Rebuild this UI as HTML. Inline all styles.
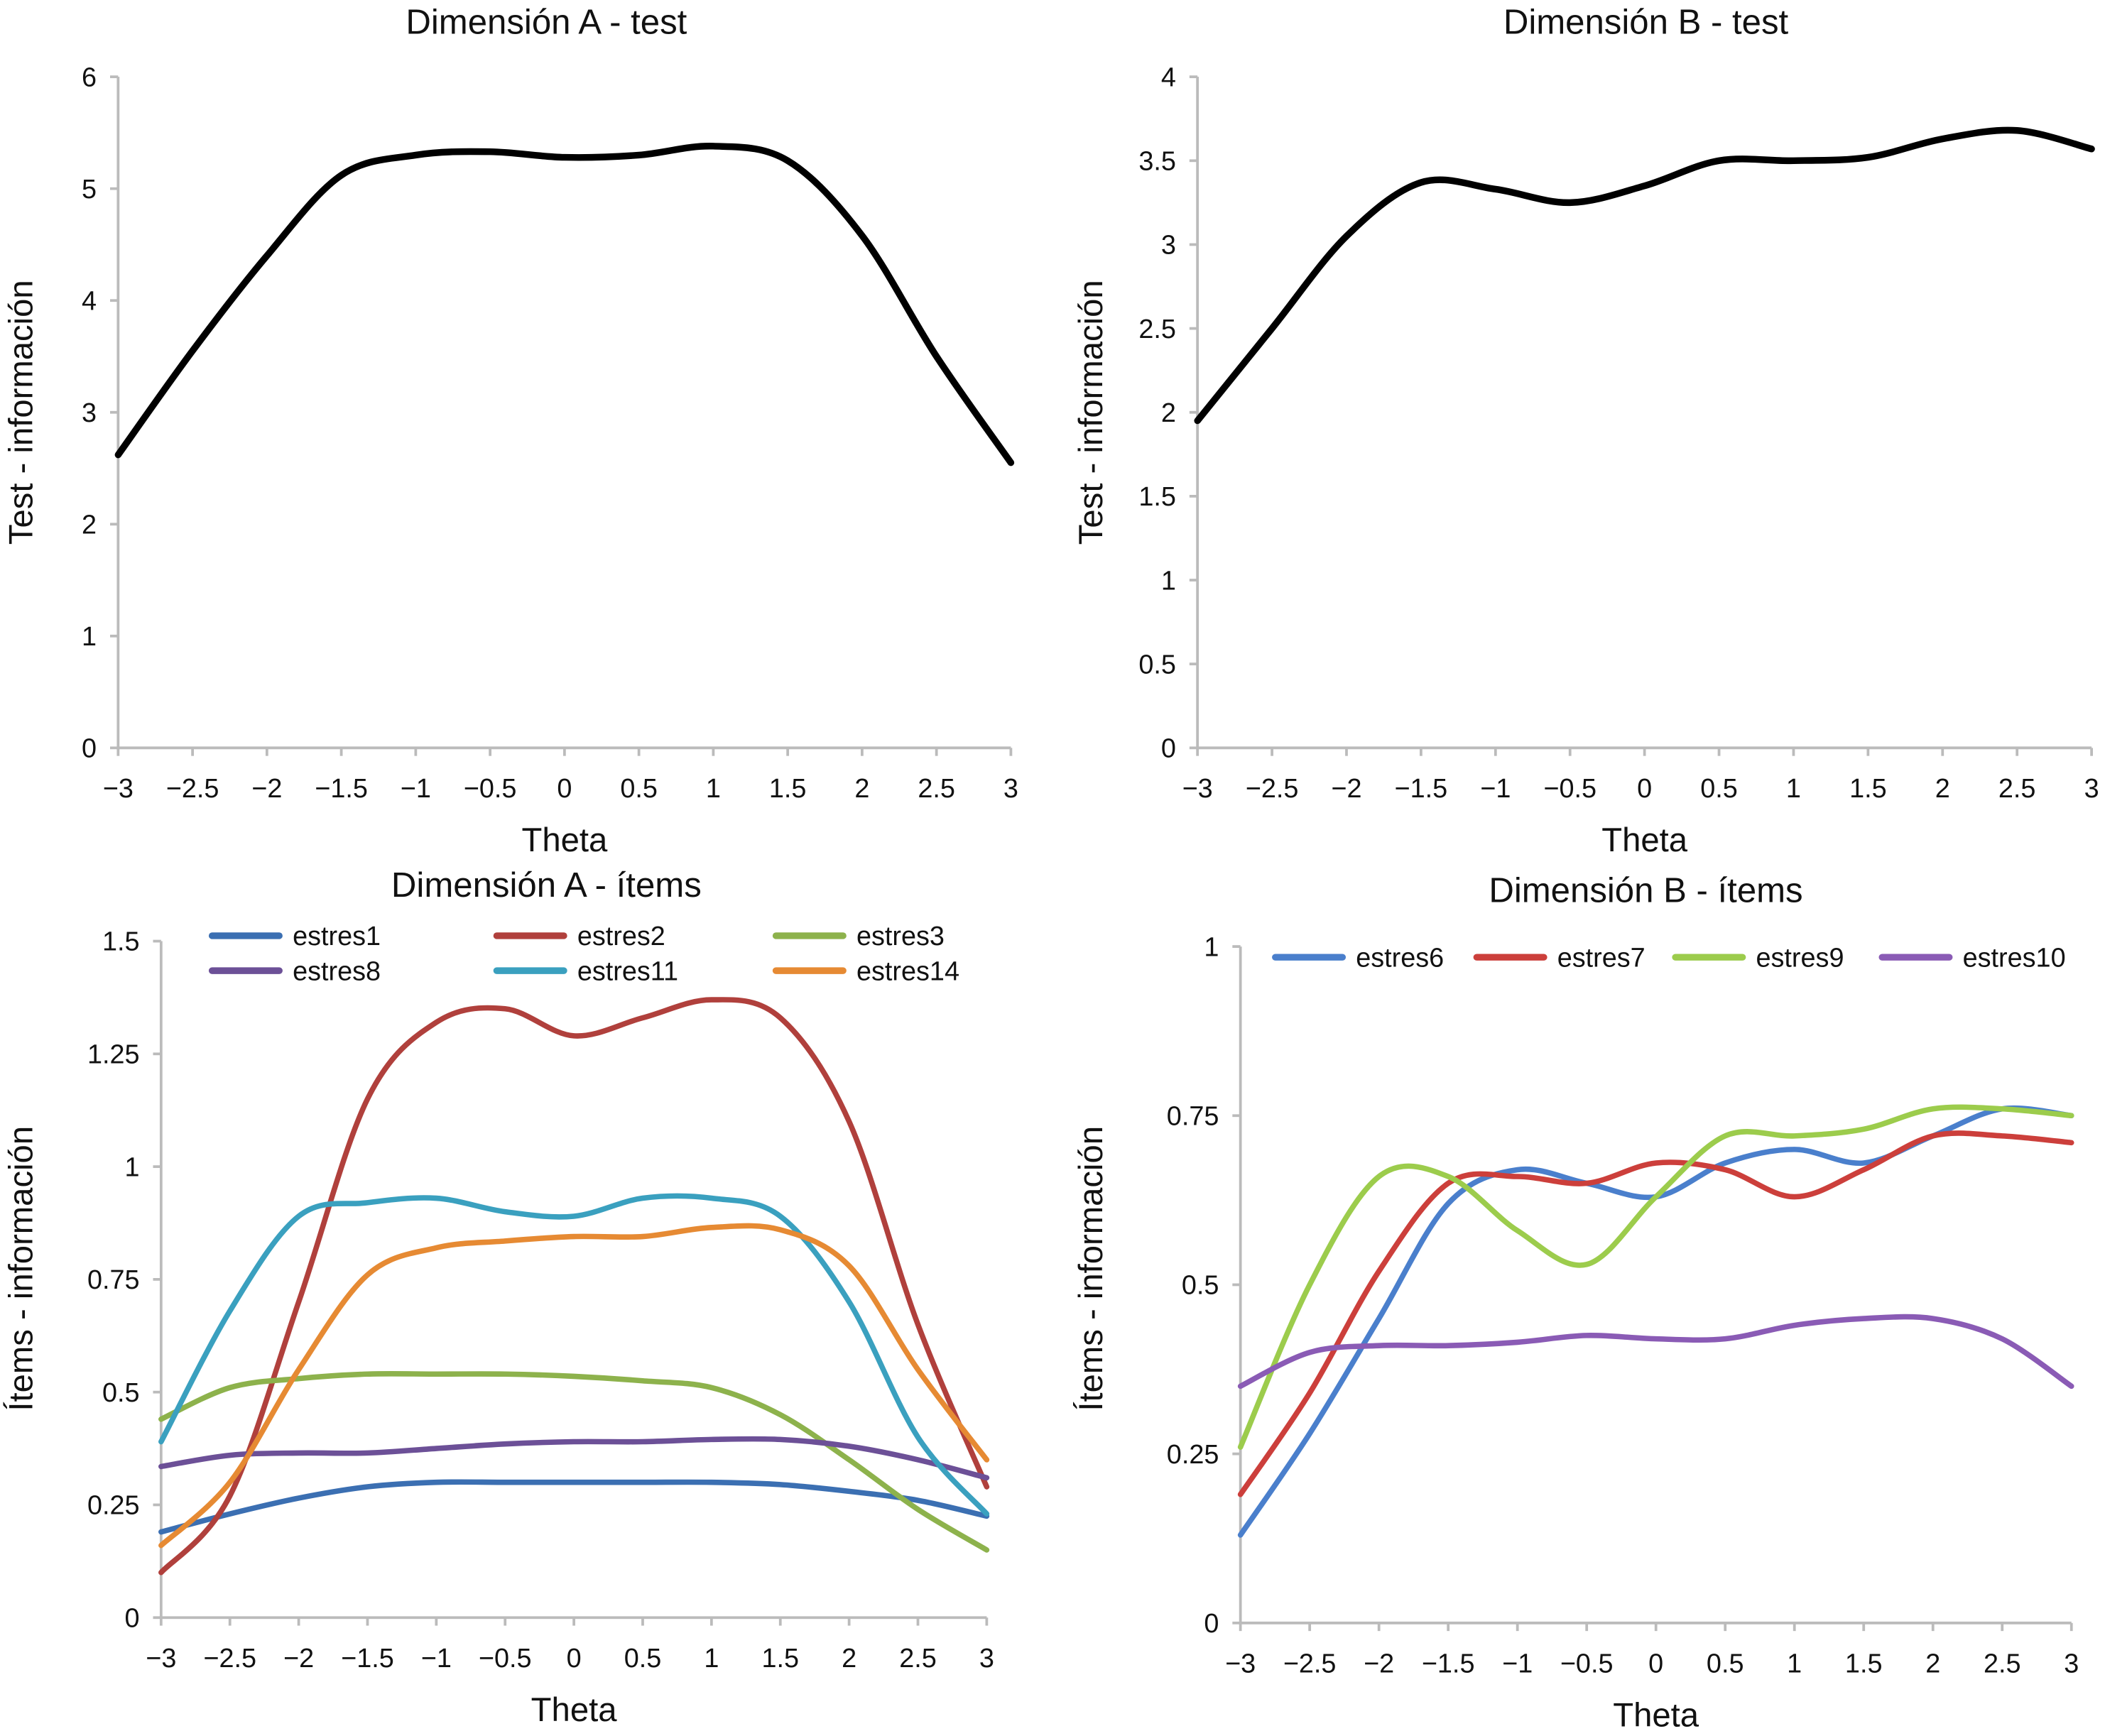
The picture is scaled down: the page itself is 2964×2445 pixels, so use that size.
<!DOCTYPE html>
<html><head><meta charset="utf-8"><style>
html,body{margin:0;padding:0;background:#fff}
svg{display:block}
text{font-family:"Liberation Sans",sans-serif;fill:#111}
</style></head><body>
<svg id="root" width="2964" height="2445" viewBox="0 0 1568 1293" xmlns="http://www.w3.org/2000/svg"></svg>
<script>
const thetas=[-3,-2.5,-2,-1.5,-1,-0.5,0,0.5,1,1.5,2,2.5,3];
const xTickLabels=["\u22123","\u22122.5","\u22122","\u22121.5","\u22121","\u22120.5","0","0.5","1","1.5","2","2.5","3"];
const testA=[2.62,3.55,4.4,5.12,5.3,5.33,5.28,5.3,5.38,5.25,4.58,3.5,2.55];
const testB=[1.95,2.5,3.05,3.37,3.33,3.25,3.35,3.5,3.5,3.52,3.63,3.68,3.57];
const estres1=[.19,.23,.265,.29,.30,.30,.30,.30,.30,.295,.28,.26,.225];
const estres2=[.10,.27,.70,1.15,1.32,1.35,1.29,1.33,1.37,1.33,1.10,.65,.29];
const estres3=[.44,.51,.53,.54,.54,.54,.535,.525,.51,.45,.35,.24,.15];
const estres8=[.335,.36,.365,.365,.375,.385,.39,.39,.395,.395,.38,.35,.31];
const estres11=[.39,.68,.89,.92,.93,.90,.89,.93,.93,.89,.70,.40,.23];
const estres14=[.16,.30,.55,.76,.82,.835,.845,.845,.865,.86,.78,.55,.35];
const estres6=[.13,.28,.45,.62,.67,.65,.63,.68,.70,.68,.72,.76,.75];
const estres7=[.19,.34,.52,.65,.66,.65,.68,.67,.63,.67,.72,.72,.71];
const estres9=[.26,.50,.66,.66,.58,.53,.63,.72,.72,.73,.76,.76,.75];
const estres10=[.35,.40,.41,.41,.415,.425,.42,.42,.44,.45,.45,.42,.35];
const yTicksA=[0,1,2,3,4,5,6];
const yTicksB=[0,0.5,1,1.5,2,2.5,3,3.5,4];
const yTicksAI=[0,0.25,0.5,0.75,1,1.25,1.5];
const yTicksBI=[0,0.25,0.5,0.75,1];

const NS="http://www.w3.org/2000/svg";
const root=document.getElementById('root');
function mk(tag,attrs,parent){const e=document.createElementNS(NS,tag);for(const k in attrs)e.setAttribute(k,attrs[k]);(parent||root).appendChild(e);return e;}
function smooth(pts){let d="M"+pts[0][0]+","+pts[0][1];for(let i=0;i<pts.length-1;i++){const p0=pts[i-1]||pts[i],p1=pts[i],p2=pts[i+1],p3=pts[i+2]||p2;
const c1=[p1[0]+(p2[0]-p0[0])/6,p1[1]+(p2[1]-p0[1])/6],c2=[p2[0]-(p3[0]-p1[0])/6,p2[1]-(p3[1]-p1[1])/6];
d+=" C"+c1[0]+","+c1[1]+" "+c2[0]+","+c2[1]+" "+p2[0]+","+p2[1];}return d;}

function chart(cfg){
  const g=mk('g',{});
  
  
  const sx=v=>cfg.x0+(v+3)/6*(cfg.x1-cfg.x0);
  const sy=v=>cfg.y0-(v/cfg.ymax)*(cfg.y0-cfg.y1);
  const t=mk('text',{x:cfg.tx,y:cfg.ty,'font-size':26,'text-anchor':'middle'},g);t.textContent=cfg.title;
  
  
  const ax=mk('path',{d:`M${cfg.x0},${cfg.y1} V${cfg.y0} H${cfg.x1}`,stroke:'#bbb','stroke-width':2,fill:'none'},g);
  
  
  cfg.yticks.forEach(v=>{const y=sy(v);mk('line',{x1:cfg.x0-6,x2:cfg.x0,y1:y,y2:y,stroke:'#bbb','stroke-width':2},g);
    const l=mk('text',{x:cfg.x0-16,y:y+7,'font-size':20,'text-anchor':'end'},g);l.textContent=String(v);
    
    });
  thetas.forEach((v,i)=>{const x=sx(v);mk('line',{x1:x,x2:x,y1:cfg.y0,y2:cfg.y0+6,stroke:'#bbb','stroke-width':2},g);
    const l=mk('text',{x:x,y:cfg.y0+37,'font-size':20,'text-anchor':'middle'},g);l.textContent=xTickLabels[i];
    
    });
  const xt=mk('text',{x:(cfg.x0+cfg.x1)/2,y:cfg.y0+77,'font-size':25,'text-anchor':'middle'},g);xt.textContent="Theta";
  
  
  const yc=cfg.ytc;
  const yt=mk('text',{x:cfg.ytx,y:yc,'font-size':25,'text-anchor':'middle',transform:`rotate(-90 ${cfg.ytx} ${yc})`},g);yt.textContent=cfg.ytitle;
  
  
  cfg.series.forEach(s=>{const p=mk('path',{d:smooth(thetas.map((v,i)=>[sx(v),sy(s.vals[i])])),stroke:s.color,'stroke-width':s.w||4,fill:'none','stroke-linecap':'round'},g);
    
    
    if(s.lx!==undefined){mk('line',{x1:s.lx,x2:s.lx+50,y1:s.ly,y2:s.ly,stroke:s.color,'stroke-width':5,'stroke-linecap':'round'},g);
      const lt=mk('text',{x:s.lx+60,y:s.ly+7,'font-size':20},g);lt.textContent=s.label;
      
      }});
}
chart({name:'chart-dimension-a-test',title:"Dimensión A - test",tx:407,ty:25,x0:88,x1:753,y0:557,y1:57,ymax:6,yticks:yTicksA,ytx:24,ytc:307,ytitle:"Test - información",
  series:[{label:'test-a',vals:testA,color:'#000',w:5}]});
chart({name:'chart-dimension-b-test',title:"Dimensión B - test",tx:1226,ty:25,x0:892,x1:1558,y0:557,y1:57,ymax:4,yticks:yTicksB,ytx:821,ytc:307,ytitle:"Test - información",
  series:[{label:'test-b',vals:testB,color:'#000',w:5}]});
chart({name:'chart-dimension-a-items',title:"Dimensión A - ítems",tx:407,ty:668,x0:120,x1:735,y0:1205,y1:701,ymax:1.5,yticks:yTicksAI,ytx:24,ytc:945,ytitle:"Ítems - información",
  series:[{label:'estres1',vals:estres1,color:'#3b6fb2',lx:158,ly:697},{label:'estres2',vals:estres2,color:'#b0403c',lx:370,ly:697},{label:'estres3',vals:estres3,color:'#8db24c',lx:578,ly:697},
  {label:'estres8',vals:estres8,color:'#6c5097',lx:158,ly:723},{label:'estres11',vals:estres11,color:'#3aa0bf',lx:370,ly:723},{label:'estres14',vals:estres14,color:'#e68a33',lx:578,ly:723}]});
chart({name:'chart-dimension-b-items',title:"Dimensión B - ítems",tx:1226,ty:672,x0:924,x1:1543,y0:1209,y1:705,ymax:1,yticks:yTicksBI,ytx:821,ytc:945,ytitle:"Ítems - información",
  series:[{label:'estres6',vals:estres6,color:'#4a7fcc',lx:950,ly:713},{label:'estres7',vals:estres7,color:'#cc3f3b',lx:1100,ly:713},{label:'estres9',vals:estres9,color:'#9ccc4c',lx:1248,ly:713},{label:'estres10',vals:estres10,color:'#8a5bb5',lx:1402,ly:713}]});
</script>
</body></html>
